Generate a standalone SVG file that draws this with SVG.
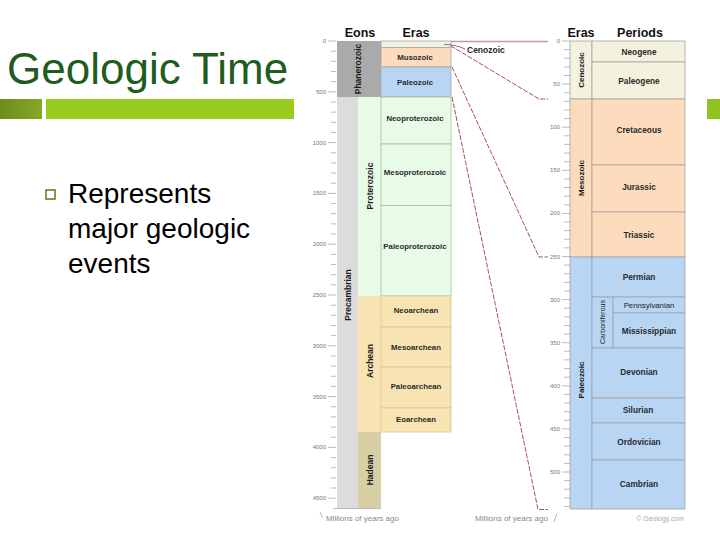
<svg xmlns="http://www.w3.org/2000/svg" width="720" height="540" viewBox="0 0 720 540">
<defs>
<linearGradient id="olive" x1="0" y1="0" x2="1" y2="0">
<stop offset="0" stop-color="#6e8c1c"/>
<stop offset="1" stop-color="#86a823"/>
</linearGradient>
<style>
.t{font-family:"Liberation Sans",Arial,Helvetica,sans-serif}
.title{font-size:44px;fill:#1f5c1f}
.body{font-size:28px;fill:#000}
.hdr{font-size:12.5px;font-weight:bold;fill:#111;text-anchor:middle}
.lbl{font-size:7.8px;font-weight:bold;fill:#2a2a2a;text-anchor:middle;dominant-baseline:central}
.per{font-size:8.3px;font-weight:bold;fill:#2a2a2a;text-anchor:middle;dominant-baseline:central}
.eon{font-size:8.5px;font-weight:bold;fill:#1a1a1a;text-anchor:middle;dominant-baseline:central}
.ax{font-size:6px;fill:#777;text-anchor:end;dominant-baseline:central}
.cap{font-size:8px;fill:#888}
.cell{stroke:#a4a4a4;stroke-width:0.8}
.pcell{stroke:#a9bba9;stroke-width:0.8}
.acell{stroke:#d9c690;stroke-width:0.8}
.tick{stroke:#aaa;stroke-width:0.8;fill:none}
.conn{stroke:#a8505a;stroke-width:1;fill:none;stroke-dasharray:5 1.5}
.cz{fill:#f4f2de}.mz{fill:#fcdcbc}.pz{fill:#b8d6f4}.pr{fill:#e8fbe6}.ar{fill:#f8e4b2}
</style>
</defs>
<rect x="0" y="0" width="720" height="540" fill="#fff"/>

<g id="slide-title">
<text class="t title" x="7" y="84">Geologic Time</text>
<rect x="0" y="99" width="42" height="20" fill="url(#olive)"/>
<rect x="46" y="99" width="248" height="20" fill="#99cc1e"/>
<rect x="707" y="99" width="13" height="20" fill="#8dc21f"/>
</g>

<g id="bullet">
<rect x="46" y="190" width="9" height="9" fill="none" stroke="#6f7a2e" stroke-width="1.6"/>
<text class="t body" x="68" y="203">Represents</text>
<text class="t body" x="68" y="238">major geologic</text>
<text class="t body" x="68" y="273">events</text>
</g>

<g id="left-axis">
<path class="tick" d="M331 41H336M331 51.2H336M331 61.3H336M331 71.5H336M331 81.6H336M331 91.8H336M331 102H336M331 112.1H336M331 122.3H336M331 132.4H336M331 142.6H336M331 152.8H336M331 162.9H336M331 173.1H336M331 183.2H336M331 193.4H336M331 203.6H336M331 213.7H336M331 223.9H336M331 234H336M331 244.2H336M331 254.4H336M331 264.5H336M331 274.7H336M331 284.8H336M331 295H336M331 305.2H336M331 315.3H336M331 325.5H336M331 335.6H336M331 345.8H336M331 356H336M331 366.1H336M331 376.3H336M331 386.4H336M331 396.6H336M331 406.8H336M331 416.9H336M331 427.1H336M331 437.2H336M331 447.4H336M331 457.6H336M331 467.7H336M331 477.9H336M331 488H336M331 498.2H336M328 41H331M328 91.8H331M328 142.6H331M328 193.4H331M328 244.2H331M328 295H331M328 345.8H331M328 396.6H331M328 447.4H331M328 498.2H331M333 508.5H381"/>
<g class="t ax">
<text x="326" y="41">0</text><text x="326" y="91.8">500</text><text x="326" y="142.6">1000</text><text x="326" y="193.4">1500</text><text x="326" y="244.2">2000</text><text x="326" y="295">2500</text><text x="326" y="345.8">3000</text><text x="326" y="396.6">3500</text><text x="326" y="447.4">4000</text><text x="326" y="498.2">4500</text>
</g>
<path d="M320 512L322.5 518" stroke="#999" stroke-width="0.7" fill="none"/>
<text class="t cap" x="326" y="521">Millions of years ago</text>
</g>

<g id="headers">
<text class="t hdr" x="360" y="37">Eons</text>
<text class="t hdr" x="416" y="37">Eras</text>
<text class="t hdr" x="581" y="37">Eras</text>
<text class="t hdr" x="640" y="37">Periods</text>
</g>

<g id="eon-phanerozoic">
<rect x="337" y="41" width="44" height="56" fill="#aaaaaa"/>
<text class="t eon" transform="translate(358 69) rotate(-90)">Phanerozoic</text>
</g>
<g id="eon-precambrian">
<rect x="337" y="97" width="21" height="411" fill="#dcdcdc"/>
<text class="t eon" font-size="9.5" transform="translate(347.5 295) rotate(-90)">Precambrian</text>
</g>
<g id="eon-proterozoic">
<rect class="pr" x="358" y="97" width="23" height="199"/>
<text class="t eon" transform="translate(370 186) rotate(-90)">Proterozoic</text>
</g>
<g id="eon-archean">
<rect class="ar" x="358" y="296" width="23" height="136"/>
<text class="t eon" transform="translate(370 361) rotate(-90)">Archean</text>
</g>
<g id="eon-hadean">
<rect x="358" y="432" width="23" height="76" fill="#d8cfa6"/>
<text class="t eon" transform="translate(370 470) rotate(-90)">Hadean</text>
</g>

<g id="era-cenozoic-left"><rect class="cz cell" x="381" y="41" width="70" height="6.5"/></g>
<g id="era-mesozoic-left"><rect class="mz cell" x="381" y="47.5" width="70" height="19.5"/><text class="t lbl" x="415" y="57.5">Musozoic</text></g>
<g id="era-paleozoic-left"><rect class="pz cell" x="381" y="67" width="70" height="30"/><text class="t lbl" x="415" y="82">Paleozoic</text></g>
<g id="era-neoproterozoic"><rect class="pr pcell" x="381" y="97" width="70" height="47"/><text class="t lbl" x="415" y="118">Neoproterozoic</text></g>
<g id="era-mesoproterozoic"><rect class="pr pcell" x="381" y="144" width="70" height="61.5"/><text class="t lbl" x="415" y="172">Mesoproterozoic</text></g>
<g id="era-paleoproterozoic"><rect class="pr pcell" x="381" y="205.5" width="70" height="90.5"/><text class="t lbl" x="415" y="246">Paleoproterozoic</text></g>
<g id="era-neoarchean"><rect class="ar acell" x="381" y="296" width="70" height="31"/><text class="t lbl" x="416" y="310.5">Neoarchean</text></g>
<g id="era-mesoarchean"><rect class="ar acell" x="381" y="327" width="70" height="40"/><text class="t lbl" x="416" y="347">Mesoarchean</text></g>
<g id="era-paleoarchean"><rect class="ar acell" x="381" y="367" width="70" height="41"/><text class="t lbl" x="416" y="386">Paleoarchean</text></g>
<g id="era-eoarchean"><rect class="ar acell" x="381" y="408" width="70" height="24"/><text class="t lbl" x="416" y="419.5">Eoarchean</text></g>

<g id="cenozoic-callout">
<path d="M444 44.5Q456 44.5 465 49" stroke="#555" stroke-width="0.8" fill="none"/>
<text class="t lbl" x="467" y="49.5" style="text-anchor:start;font-size:8.5px">Cenozoic</text>
</g>

<g id="connectors">
<path d="M451 41.5H548" stroke="#c79a9f" stroke-width="1.5" fill="none"/>
<path class="conn" d="M451 46L539 99H548"/>
<path class="conn" d="M452 67L539 257H548"/>
<path class="conn" d="M452 97L538 509.5H548"/>
</g>

<g id="right-axis">
<path class="tick" d="M564 41H570M564 49.6H570M564 58.2H570M564 66.9H570M564 75.5H570M564 84.1H570M564 92.7H570M564 101.3H570M564 110H570M564 118.6H570M564 127.2H570M564 135.8H570M564 144.4H570M564 153.1H570M564 161.7H570M564 170.3H570M564 178.9H570M564 187.5H570M564 196.2H570M564 204.8H570M564 213.4H570M564 222H570M564 230.6H570M564 239.3H570M564 247.9H570M564 256.5H570M564 265.1H570M564 273.7H570M564 282.4H570M564 291H570M564 299.6H570M564 308.2H570M564 316.8H570M564 325.5H570M564 334.1H570M564 342.7H570M564 351.3H570M564 359.9H570M564 368.6H570M564 377.2H570M564 385.8H570M564 394.4H570M564 403H570M564 411.7H570M564 420.3H570M564 428.9H570M564 437.5H570M564 446.1H570M564 454.8H570M564 463.4H570M564 472H570M564 480.6H570M564 489.2H570M564 497.9H570M564 506.5H570M562 41H564M562 84.1H564M562 127.2H564M562 170.3H564M562 213.4H564M562 256.5H564M562 299.6H564M562 342.7H564M562 385.8H564M562 428.9H564M562 472H564"/>
<g class="t ax">
<text x="560" y="41">0</text><text x="560" y="84.1">50</text><text x="560" y="127.2">100</text><text x="560" y="170.3">150</text><text x="560" y="213.4">200</text><text x="560" y="256.5">250</text><text x="560" y="299.6">300</text><text x="560" y="342.7">350</text><text x="560" y="385.8">400</text><text x="560" y="428.9">450</text><text x="560" y="472">500</text>
</g>
<text class="t cap" x="475" y="521">Millions of years ago</text>
<path d="M557 513L554 522" stroke="#999" stroke-width="0.7" fill="none"/>
<text class="t cap" x="684" y="521" style="text-anchor:end;font-size:7px;fill:#aaa">© Geology.com</text>
</g>

<g id="era-cenozoic-right"><rect class="cz cell" x="570" y="41" width="22" height="58"/><text class="t eon" style="font-size:8px" transform="translate(581 70) rotate(-90)">Cenozoic</text></g>
<g id="era-mesozoic-right"><rect class="mz cell" x="570" y="99" width="22" height="158"/><text class="t eon" style="font-size:8px" transform="translate(581 178) rotate(-90)">Mesozoic</text></g>
<g id="era-paleozoic-right"><rect class="pz cell" x="570" y="257" width="22" height="252"/><text class="t eon" style="font-size:8px" transform="translate(581 380) rotate(-90)">Paleozoic</text></g>

<g id="period-neogene"><rect class="cz cell" x="592" y="41" width="93" height="21"/><text class="t per" x="639" y="51.5">Neogene</text></g>
<g id="period-paleogene"><rect class="cz cell" x="592" y="62" width="93" height="37"/><text class="t per" x="639" y="81">Paleogene</text></g>
<g id="period-cretaceous"><rect class="mz cell" x="592" y="99" width="93" height="66"/><text class="t per" x="639" y="130">Cretaceous</text></g>
<g id="period-jurassic"><rect class="mz cell" x="592" y="165" width="93" height="47"/><text class="t per" x="639" y="187">Jurassic</text></g>
<g id="period-triassic"><rect class="mz cell" x="592" y="212" width="93" height="45"/><text class="t per" x="639" y="235">Triassic</text></g>
<g id="period-permian"><rect class="pz cell" x="592" y="257" width="93" height="40"/><text class="t per" x="639" y="277">Permian</text></g>
<g id="period-carboniferous"><rect class="pz cell" x="592" y="297" width="21" height="51"/><text class="t eon" style="font-size:7px;font-weight:normal" transform="translate(602.5 322) rotate(-90)">Carboniferous</text></g>
<g id="period-pennsylvanian"><rect class="pz cell" x="613" y="297" width="72" height="16"/><text class="t per" style="font-size:7.8px;font-weight:normal;fill:#222" x="649" y="305">Pennsylvanian</text></g>
<g id="period-mississippian"><rect class="pz cell" x="613" y="313" width="72" height="35"/><text class="t per" x="649" y="331">Mississippian</text></g>
<g id="period-devonian"><rect class="pz cell" x="592" y="348" width="93" height="50"/><text class="t per" x="639" y="372">Devonian</text></g>
<g id="period-silurian"><rect class="pz cell" x="592" y="398" width="93" height="25"/><text class="t per" x="638" y="410">Silurian</text></g>
<g id="period-ordovician"><rect class="pz cell" x="592" y="423" width="93" height="37"/><text class="t per" x="639" y="442">Ordovician</text></g>
<g id="period-cambrian"><rect class="pz cell" x="592" y="460" width="93" height="49"/><text class="t per" x="639" y="484">Cambrian</text></g>
</svg>
